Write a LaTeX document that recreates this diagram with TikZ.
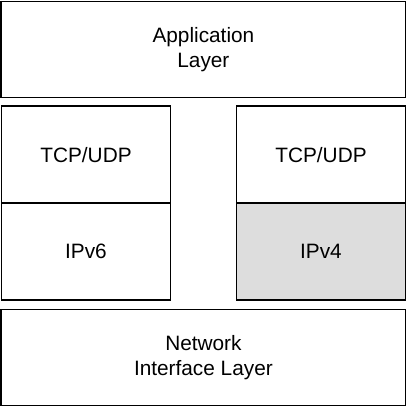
\documentclass[tikz,border=0pt]{standalone}
\usepackage{fontspec}
\setmainfont{Liberation Sans}
\usepackage{xcolor}
\definecolor{layergray}{HTML}{DDDDDD}
\usepackage{tikz}

\begin{document}
\begin{tikzpicture}[
  x=1pt, y=-1pt,
  layer/.style={
    draw=black, fill=white, line width=1.8pt,
    align=center, inner sep=0pt,
    font=\fontsize{20.8}{25}\selectfont
  },
  wide/.style={layer, minimum width=404pt, minimum height=96pt},
  half/.style={layer, minimum width=169pt, minimum height=97pt}
]

\useasboundingbox (0,0) rectangle (408,408);

% ---- Application ----
\node[wide] (app) at (203.4, 49.5) {Application\\Layer};

% ---- Pile IPv6 ----
\node[half] (tcpsix) at (86, 154.8) {TCP/UDP};
\node[half] (ipsix) at (86, 251.8) {IPv6};

% ---- Pile IPv4 ----
\node[half] (tcpfour) at (321, 154.8) {TCP/UDP};
\node[half, fill=layergray] (ipfour) at (321, 251.8) {IPv4};

% ---- Interface reseau ----
\node[wide] (net) at (203.4, 357.5) {Network\\Interface Layer};

\end{tikzpicture}
\end{document}
